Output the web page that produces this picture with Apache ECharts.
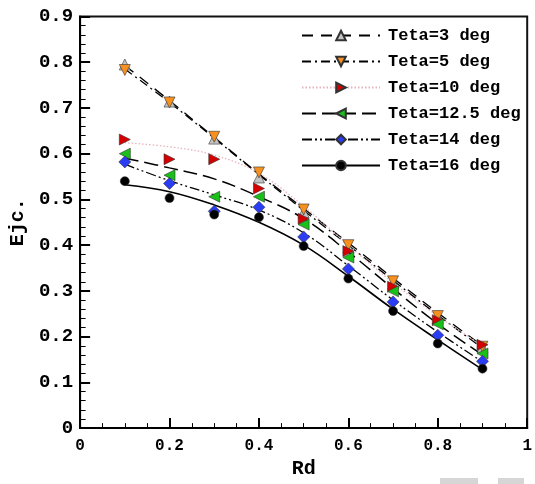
<!DOCTYPE html>
<html>
<head>
<meta charset="utf-8">
<script src="https://cdn.jsdelivr.net/npm/echarts@6/dist/echarts.min.js"></script>
<style>
html,body{margin:0;padding:0;background:#fff;}
#chart{width:535px;height:484px;}
</style>
</head>
<body>
<div id="chart"></div>
<script>
// ---- data ----
const rd = [0.1, 0.2, 0.3, 0.4, 0.5, 0.6, 0.7, 0.8, 0.9];
const seriesNames = ['Teta=3 deg', 'Teta=5 deg', 'Teta=10 deg', 'Teta=12.5 deg', 'Teta=14 deg', 'Teta=16 deg'];

// measured points (markers)
const pts3   = [0.795, 0.714, 0.633, 0.548, 0.472, 0.395, 0.316, 0.240, 0.176];
const pts5   = [0.783, 0.712, 0.637, 0.559, 0.478, 0.400, 0.321, 0.245, 0.178];
const pts10  = [0.631, 0.588, 0.588, 0.524, 0.458, 0.387, 0.309, 0.236, 0.182];
const pts125 = [0.600, 0.553, 0.506, 0.506, 0.445, 0.373, 0.299, 0.227, 0.163];
const pts14  = [0.582, 0.535, 0.474, 0.483, 0.418, 0.348, 0.276, 0.203, 0.146];
const pts16  = [0.540, 0.503, 0.467, 0.461, 0.398, 0.327, 0.256, 0.185, 0.130];

// fitted curves (read at the same Rd values)
const fit3   = [0.793, 0.716, 0.636, 0.556, 0.480, 0.405, 0.328, 0.252, 0.180];
const fit5   = [0.785, 0.712, 0.634, 0.554, 0.476, 0.400, 0.323, 0.247, 0.175];
const fit10  = [0.624, 0.615, 0.597, 0.557, 0.485, 0.400, 0.318, 0.245, 0.180];
const fit125 = [0.590, 0.569, 0.545, 0.506, 0.458, 0.385, 0.305, 0.228, 0.160];
const fit14  = [0.577, 0.541, 0.510, 0.477, 0.427, 0.355, 0.280, 0.210, 0.145];
const fit16  = [0.532, 0.517, 0.488, 0.450, 0.400, 0.332, 0.260, 0.193, 0.128];

const xTicks = [0, 0.2, 0.4, 0.6, 0.8, 1];
const yTicks = [0, 0.1, 0.2, 0.3, 0.4, 0.5, 0.6, 0.7, 0.8, 0.9];

// ---- styles ----
const FONT = '"Liberation Mono", "Courier New", monospace';
const styles = [
  {pts: pts3,   fit: fit3,   symbol: 'triangle', rot: 0,   size: 11, color: '#c4c4c4', line: '#000', dash: [11, 8],             width: 1.3},
  {pts: pts5,   fit: fit5,   symbol: 'triangle', rot: 180, size: 11, color: '#f7901e', line: '#000', dash: [9, 4, 2, 4],        width: 1.3},
  {pts: pts10,  fit: fit10,  symbol: 'triangle', rot: -90, size: 11, color: '#d40000', line: '#e6b4bc', dash: [1.5, 2],        width: 1.3},
  {pts: pts125, fit: fit125, symbol: 'triangle', rot: 90,  size: 11, color: '#18c018', line: '#000', dash: [14, 6],             width: 1.5},
  {pts: pts14,  fit: fit14,  symbol: 'diamond',  rot: 0,   size: 12, color: '#2b3cf5', line: '#000', dash: [10, 3, 2, 3, 2, 3],  width: 1.3},
  {pts: pts16,  fit: fit16,  symbol: 'circle',   rot: 0,   size: 9,  color: '#000000', line: '#000', dash: 'solid',            width: 1.6}
];

const series = [];
styles.forEach((s, i) => {
  series.push({
    name: seriesNames[i],
    type: 'line',
    smooth: 0.4,
    data: rd.map((x, k) => [x, s.fit[k]]),
    symbol: s.symbol,
    symbolRotate: s.rot,
    symbolSize: s.size,
    showSymbol: false,
    itemStyle: {color: s.color, borderColor: '#333', borderWidth: 0.6},
    lineStyle: {color: s.line, type: s.dash, width: s.width},
    z: 2
  });
});
styles.forEach((s, i) => {
  series.push({
    name: seriesNames[i] + ' pts',
    type: 'scatter',
    data: rd.map((x, k) => [x, s.pts[k]]),
    symbol: s.symbol,
    symbolRotate: s.rot,
    symbolSize: s.size,
    itemStyle: {color: s.color, borderColor: '#333', borderWidth: 0.6, opacity: 1},
    z: 3 + i
  });
});

const chart = echarts.init(document.getElementById('chart'), null, {renderer: 'canvas'});
chart.setOption({
  animation: false,
  backgroundColor: '#fff',
  grid: {left: 77, right: 3, top: 16.5, bottom: 52, show: true, borderColor: '#111', borderWidth: 2, backgroundColor: 'transparent'},
  legend: {
    data: seriesNames,
    orient: 'vertical',
    left: 296,
    top: 22,
    itemWidth: 78,
    itemHeight: 12,
    itemGap: 9,
    selectedMode: false,
    textStyle: {fontFamily: FONT, fontWeight: 'bold', fontSize: 17, color: '#000', padding: [0, 0, 0, 3], lineHeight: 17}
  },
  xAxis: {
    type: 'value', min: xTicks[0], max: xTicks[xTicks.length - 1], interval: xTicks[1] - xTicks[0],
    name: 'Rd', nameLocation: 'middle', nameGap: 26,
    nameTextStyle: {fontFamily: FONT, fontWeight: 'bold', fontSize: 20, color: '#000'},
    axisLine: {lineStyle: {color: '#000', width: 2}},
    axisTick: {inside: true, length: 10, lineStyle: {color: '#000', width: 2}},
    minorTick: {show: true, splitNumber: 4, length: 5, lineStyle: {color: '#000', width: 1}},
    splitLine: {show: false},
    axisLabel: {fontFamily: FONT, fontWeight: 'bold', fontSize: 16, color: '#000', margin: 10,
      formatter: v => (v === 0 || v === 1) ? String(v) : v.toFixed(1)}
  },
  yAxis: {
    type: 'value', min: yTicks[0], max: yTicks[yTicks.length - 1], interval: yTicks[1] - yTicks[0],
    name: 'Ejc.', nameLocation: 'middle', nameGap: 50,
    nameTextStyle: {fontFamily: FONT, fontWeight: 'bold', fontSize: 20, color: '#000'},
    axisLine: {lineStyle: {color: '#000', width: 2}},
    axisTick: {inside: true, length: 10, lineStyle: {color: '#000', width: 2}},
    minorTick: {show: true, splitNumber: 5, length: 5.5, lineStyle: {color: '#000', width: 1}},
    splitLine: {show: false},
    axisLabel: {fontFamily: FONT, fontWeight: 'bold', fontSize: 19, color: '#000', margin: 7,
      formatter: v => v === 0 ? '0' : v.toFixed(1)}
  },
  graphic: [
    {type: 'rect', left: 440, top: 478, shape: {width: 38, height: 6}, style: {fill: '#d6d6d6'}},
    {type: 'rect', left: 498, top: 478, shape: {width: 26, height: 6}, style: {fill: '#d6d6d6'}}
  ],
  series: series
});
</script>
</body>
</html>
